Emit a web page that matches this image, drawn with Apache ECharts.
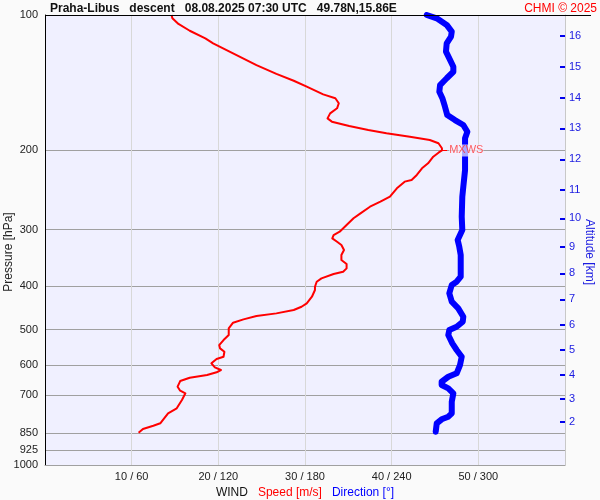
<!DOCTYPE html>
<html><head><meta charset="utf-8">
<script src="https://cdn.jsdelivr.net/npm/echarts@6/dist/echarts.min.js"></script>
<style>html,body{margin:0;padding:0;background:#fafafa}#c{width:600px;height:500px}</style>
</head><body><div id="c"></div>
<script>
// ---- data ----
const pressureTicks = [100, 200, 300, 400, 500, 600, 700, 850, 925, 1000];
const speedTicks = [10, 20, 30, 40, 50];
const altitudeKm = [2, 3, 4, 5, 6, 7, 8, 9, 10, 11, 12, 13, 14, 15, 16];
const altitudePressure = [802.6, 713.4, 631.0, 555.2, 488.6, 428.4, 375.0, 327.2, 283.1, 244.4, 209.3, 178.6, 152.7, 130.5, 111.3];

const speedPressure = [100, 101.7, 104.7, 108.4, 112.7, 115.6, 121.7, 129.2, 135.2, 140.0, 144.3, 150.1, 153.1, 157.1, 161.2, 165.4, 169.7, 172.6, 176.5, 180.1, 183.2, 186.4, 189.6, 192.8, 197.8, 200, 202.3, 206.5, 213.6, 219.1, 226.7, 232.6, 234.6, 242.7, 253.4, 259.9, 266.7, 275.9, 283.0, 292.9, 303.1, 308.3, 313.6, 319.1, 324.5, 332.9, 341.6, 350.4, 357.7, 365.6, 371.9, 376.3, 384.8, 391.5, 401.7, 408.5, 422.7, 437.2, 444.9, 452.5, 460.3, 466.6, 474.6, 482.9, 496.9, 514.3, 527.7, 541.4, 550.7, 560.3, 574.7, 581.5, 594.3, 606.6, 615.0, 622.3, 631.0, 639.7, 650.8, 669.9, 683.8, 693.0, 717.1, 748.2, 767.6, 807.9, 817.9, 831.8, 847.7];
const speedValues = [14.6, 14.7, 15.4, 16.7, 18.5, 19.4, 21.7, 24.4, 26.7, 28.7, 30.2, 32.1, 33.5, 33.9, 33.7, 32.9, 32.6, 33.1, 35.1, 37.3, 39.4, 42.1, 44.4, 45.4, 45.8, 45.8, 45.4, 44.8, 44.2, 43.5, 42.9, 42.3, 41.5, 40.6, 39.8, 38.7, 37.5, 36.4, 35.6, 34.8, 34.0, 33.3, 33.15, 33.7, 34.2, 34.5, 34.2, 34.2, 34.8, 34.8, 34.4, 33.3, 31.9, 31.35, 31.15, 31.15, 30.8, 30.2, 29.6, 28.7, 26.7, 24.4, 22.9, 21.7, 21.2, 21.2, 20.6, 20.1, 20.2, 20.7, 20.6, 19.8, 19.2, 19.6, 20.3, 19.8, 18.7, 16.7, 15.6, 15.3, 15.6, 16.2, 15.8, 15.2, 14.2, 13.3, 12.5, 11.3, 10.8];

const dirPressure = [100, 101.7, 105.2, 108.9, 111.7, 115.6, 120.6, 124.8, 130.3, 133.7, 138.2, 143.1, 148.1, 153.1, 159.9, 166.9, 171.2, 175.6, 181.7, 187.9, 199.5, 221.1, 240.8, 253.4, 280.7, 300.5, 308.3, 316.2, 327.2, 341.6, 381.6, 391.5, 398.1, 415.3, 433.6, 448.6, 468.3, 480.5, 492.9, 501.2, 514.3, 536.6, 555.2, 574.7, 599.6, 625.6, 636.6, 653.1, 664.2, 675.6, 693.0, 723.3, 767.6, 781.1, 791.5, 807.9, 843.3];
const dirValues = [264.3, 271.2, 278.1, 281.6, 281.1, 278.1, 277.6, 279.9, 282.7, 282.7, 278.1, 273.5, 273.0, 275.1, 276.9, 278.5, 283.8, 289.6, 292.4, 290.8, 290.8, 290.8, 289.6, 288.9, 288.5, 288.9, 287.3, 285.7, 286.8, 287.8, 287.8, 285.0, 281.6, 279.9, 281.6, 286.1, 289.6, 289.2, 285.0, 279.9, 279.2, 282.0, 285.0, 288.5, 287.3, 285.0, 279.2, 274.6, 274.6, 279.2, 282.7, 281.6, 281.6, 279.2, 274.6, 271.2, 270.5];

const mxwsPressure = 200;
const mxwsSpeed = 45.8;

// ---- chart ----
const chart = echarts.init(document.getElementById('c'), null, {renderer: 'canvas'});
const FONT = '"Liberation Sans", Arial, sans-serif';
const speedData = speedPressure.map((p, i) => [speedValues[i], p]);
const dirData = dirPressure.map((p, i) => [dirValues[i], p]);
const mainLabels = pressureTicks.slice(0, -1);
const lastLabel = pressureTicks.slice(-1);

function altLabel(v) {
  let best = 0, bd = Infinity;
  altitudePressure.forEach((p, i) => { const d = Math.abs(p - v); if (d < bd) { bd = d; best = i; } });
  return String(altitudeKm[best]);
}

const noLabel = {show: false};
chart.setOption({
  animation: false,
  backgroundColor: '#fafafa',
  textStyle: {fontFamily: FONT},
  title: [
    {text: 'Praha-Libus   descent   08.08.2025 07:30 UTC   49.78N,15.86E', left: 50, top: 2, padding: 0,
     textStyle: {fontSize: 12, fontWeight: 'bold', color: '#111', fontFamily: FONT, lineHeight: 13}},
    {text: 'CHMI © 2025', right: 3, top: 2, padding: 0,
     textStyle: {fontSize: 12, fontWeight: 'normal', color: '#ff0000', fontFamily: FONT, lineHeight: 13}}
  ],
  graphic: [
    {type: 'line', shape: {x1: 45, y1: 15.5, x2: 591, y2: 15.5}, style: {stroke: '#000', lineWidth: 1}, z: 100},
    {type: 'text', x: 9, y: 252, rotation: Math.PI / 2,
     style: {text: 'Pressure [hPa]', fill: '#222', font: '12px ' + FONT, align: 'center', verticalAlign: 'middle'}},
    {type: 'text', x: 589.5, y: 252, rotation: -Math.PI / 2,
     style: {text: 'Altitude [km]', fill: '#1a1ae0', font: '12px ' + FONT, align: 'center', verticalAlign: 'middle'}}
  ],
  grid: {left: 45, right: 35, top: 15, bottom: 35, show: true, backgroundColor: '#f0f0ff', borderWidth: 0,
         containLabel: false, outerBoundsMode: 'none'},
  xAxis: [
    {type: 'value', min: 0, max: 60, interval: 10,
     axisLine: {show: true, onZero: false, lineStyle: {color: '#a0a0a0'}},
     axisTick: {show: false},
     splitLine: {show: true, lineStyle: {color: '#d8d8d8'}},
     axisLabel: {customValues: speedTicks, margin: 6, fontSize: 11, color: '#222', fontFamily: FONT,
                 formatter: v => v + ' / ' + (v * 6)},
     name: '{k|WIND}   {r|Speed [m/s]}   {b|Direction [°]}', nameLocation: 'middle', nameGap: 19,
     nameTextStyle: {fontSize: 12, fontFamily: FONT,
       rich: {k: {color: '#111', fontSize: 12, fontFamily: FONT},
              r: {color: '#ff0000', fontSize: 12, fontFamily: FONT},
              b: {color: '#0000ff', fontSize: 12, fontFamily: FONT}}}},
    {type: 'value', min: 0, max: 360, show: false, splitLine: {show: false}}
  ],
  yAxis: [
    {type: 'log', logBase: 10, min: 100, max: 1000, inverse: true, position: 'left',
     axisLine: {show: true, onZero: false, lineStyle: {color: '#000', width: 1}},
     axisTick: {show: false, customValues: pressureTicks},
     splitLine: {show: true, lineStyle: {color: '#a0a0a0'}},
     axisLabel: {customValues: mainLabels, margin: 7, fontSize: 11, color: '#222', fontFamily: FONT,
                 formatter: v => String(Math.round(v))}},
    {type: 'log', logBase: 10, min: 100, max: 1000, inverse: true, position: 'right',
     axisLine: {show: true, onZero: false, lineStyle: {color: '#c8c8c8', width: 1}},
     axisTick: {show: true, inside: true, length: 5, customValues: altitudePressure, lineStyle: {color: '#0000ee', width: 2}},
     splitLine: {show: false},
     axisLabel: {customValues: altitudePressure, margin: 4, fontSize: 11, color: '#1a1ae0', fontFamily: FONT,
                 formatter: altLabel}},
    {type: 'log', logBase: 10, min: 100, max: 1000, inverse: true, position: 'left',
     axisLine: {show: false}, axisTick: {show: false}, splitLine: {show: false},
     axisLabel: {customValues: lastLabel, margin: 7, fontSize: 11, color: '#222', fontFamily: FONT,
                 formatter: v => String(Math.round(v))}}
  ],
  series: [
    {type: 'line', name: 'Direction', xAxisIndex: 1, yAxisIndex: 0, data: dirData, showSymbol: false,
     smooth: false, lineStyle: {color: '#0000ff', width: 6, cap: 'round', join: 'round'}, z: 2},
    {type: 'line', name: 'Speed', xAxisIndex: 0, yAxisIndex: 0, data: speedData, showSymbol: false,
     smooth: false, lineStyle: {color: '#ff0000', width: 2, join: 'round'}, z: 3,
     markLine: {silent: true, symbol: 'none', animation: false,
       lineStyle: {color: '#ff0000', width: 1, type: 'solid'},
       data: [
         [{coord: [mxwsSpeed, mxwsPressure], label: {show: true, position: 'end', formatter: 'MXWS', distance: 2,
             color: 'rgba(255,40,40,0.75)', fontSize: 11, fontFamily: FONT, backgroundColor: 'rgba(245,240,255,0.7)', padding: [1, 0, 0, 0]}},
          {coord: [mxwsSpeed + 0.6, mxwsPressure]}],
         [{coord: [-0.4, mxwsPressure], label: noLabel}, {coord: [1.2, mxwsPressure]}],
         [{coord: [58.8, mxwsPressure], label: noLabel}, {coord: [60.3, mxwsPressure]}]
       ]}}
  ]
});
</script></body></html>
